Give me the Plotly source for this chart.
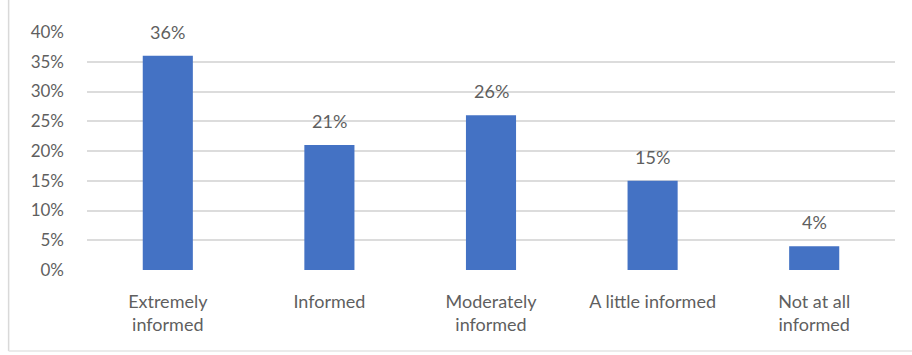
import plotly.graph_objects as go

categories = ["Extremely<br>informed", "Informed", "Moderately<br>informed",
              "A little informed", "Not at all<br>informed"]
values = [36, 21, 26, 15, 4]
y_ticks = [0, 5, 10, 15, 20, 25, 30, 35, 40]
y_tick_labels = [f"{v}%" for v in y_ticks]

FONT = "Lato, 'Open Sans', sans-serif"
GRAY = "#5F5F5F"

fig = go.Figure(
    go.Bar(
        x=categories,
        y=values,
        marker=dict(color="#4472C4", line=dict(width=0)),
        hoverinfo="skip",
    )
)

# value labels floating above each bar
annotations = [
    dict(x=c, y=v, xref="x", yref="y", text=f"{v}%", showarrow=False,
         yanchor="middle", yshift=24,
         font=dict(family=FONT, size=18, color=GRAY))
    for c, v in zip(categories, values)
]

fig.update_layout(
    width=912,
    height=355,
    margin=dict(l=87, r=17, t=32, b=85),
    paper_bgcolor="white",
    plot_bgcolor="white",
    bargap=0.69,
    showlegend=False,
    font=dict(family=FONT, size=18, color=GRAY),
    annotations=annotations,
    xaxis=dict(
        showgrid=False,
        showline=False,
        ticks="",
        ticklabelstandoff=19,
        tickfont=dict(family=FONT, size=18, color=GRAY),
    ),
    yaxis=dict(
        range=[0, 40],
        tickvals=y_ticks,
        ticktext=y_tick_labels,
        showgrid=True,
        gridcolor="#DCDCDC",
        gridwidth=1.5,
        zeroline=False,
        showline=False,
        ticks="",
        ticklabelstandoff=22,
        tickfont=dict(family=FONT, size=17, color=GRAY),
    ),
    shapes=[
        # chart frame: left and bottom edges
        dict(type="line", xref="paper", yref="paper",
             x0=-0.097, x1=-0.097, y0=-0.34, y1=1.2,
             line=dict(color="#D9D9D9", width=1.5)),
        dict(type="line", xref="paper", yref="paper",
             x0=-0.097, x1=1.1, y0=-0.34, y1=-0.34,
             line=dict(color="#E4E4E4", width=1.5)),
    ],
)

fig.write_html("out.html")
